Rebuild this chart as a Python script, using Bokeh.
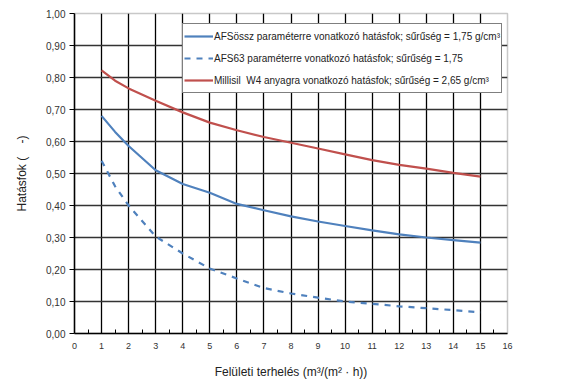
from bokeh.plotting import figure
from bokeh.models import Range1d, FixedTicker, Legend, LegendItem
from bokeh.embed import file_html
from bokeh.resources import INLINE

# Data
x_vals = [1, 1.5, 2, 3, 4, 5, 6, 7, 8, 9, 10, 11, 12, 13, 14, 15]
afs_ossz = [0.68, 0.63, 0.586, 0.51, 0.467, 0.44, 0.405, 0.385, 0.366, 0.35, 0.336, 0.322, 0.31, 0.30, 0.292, 0.284]
afs63 = [0.54, 0.46, 0.40, 0.303, 0.25, 0.203, 0.172, 0.142, 0.125, 0.112, 0.10, 0.093, 0.085, 0.079, 0.073, 0.066]
millisil = [0.822, 0.79, 0.766, 0.727, 0.691, 0.659, 0.635, 0.614, 0.596, 0.578, 0.56, 0.542, 0.527, 0.515, 0.502, 0.49]

labels = [
    "AFSössz paraméterre vonatkozó hatásfok; sűrűség = 1,75 g/cm³",
    "AFS63 paraméterre vonatkozó hatásfok; sűrűség = 1,75",
    "Millisil\u00a0 W4 anyagra vonatkozó hatásfok; sűrűség = 2,65 g/cm³",
]
x_ticks = list(range(0, 17))
y_ticks = [0.0, 0.1, 0.2, 0.3, 0.4, 0.5, 0.6, 0.7, 0.8, 0.9, 1.0]
y_tick_labels = ["0,00", "0,10", "0,20", "0,30", "0,40", "0,50", "0,60", "0,70", "0,80", "0,90", "1,00"]

FONT = "Liberation Sans"

p = figure(width=557, height=382, output_backend="svg", toolbar_location=None,
           x_range=Range1d(0, 16), y_range=Range1d(0, 1),
           min_border_left=74, min_border_right=50, min_border_top=13, min_border_bottom=49)

p.outline_line_color = "#c8c8c8"
p.outline_line_width = 1.5

# axes
p.xaxis.ticker = FixedTicker(ticks=x_ticks, minor_ticks=[i + 0.5 for i in range(16)])
p.yaxis.ticker = FixedTicker(ticks=y_ticks)
p.yaxis.major_label_overrides = {t: l for t, l in zip(y_ticks, y_tick_labels)}
p.xaxis.major_tick_in = 0
p.xaxis.major_tick_out = 0
p.xaxis.minor_tick_in = 4
p.xaxis.minor_tick_out = 0
p.xaxis.minor_tick_line_color = "black"
p.yaxis.major_tick_in = 0
p.yaxis.major_tick_out = 5
p.yaxis.minor_tick_line_color = None
for ax in (p.xaxis, p.yaxis):
    ax.axis_line_color = "black"
    ax.axis_line_width = 1.5
    ax.major_tick_line_color = "black"
    ax.major_label_text_font = FONT
    ax.major_label_text_color = "#333333"
    ax.axis_label_text_font = FONT
    ax.axis_label_text_font_style = "normal"
    ax.axis_label_text_font_size = "12px"
    ax.axis_label_text_color = "#222222"
p.xaxis.major_label_text_font_size = "9px"
p.yaxis.major_label_text_font_size = "10px"
p.xaxis.major_label_standoff = 9
p.xaxis.axis_label_standoff = 13
p.yaxis.major_label_standoff = 4
p.yaxis.axis_label_standoff = 14
p.xaxis.axis_label = "Felületi terhelés (m³/(m² · h))"
p.yaxis.axis_label = "Hatásfok (\u00a0\u00a0\u00a0\u00a0-)"

# grid
p.xgrid.ticker = FixedTicker(ticks=x_ticks[1:16])
p.xgrid.grid_line_color = "black"
p.xgrid.grid_line_width = 1.3
p.ygrid.ticker = FixedTicker(ticks=y_ticks[1:10])
p.ygrid.grid_line_color = "#333333"
p.ygrid.grid_line_width = 1.3
p.ygrid.grid_line_alpha = 1.0

r1 = p.line(x_vals, afs_ossz, line_color="#4F81BD", line_width=2.2)
r2 = p.line(x_vals, afs63, line_color="#4F81BD", line_width=2.2, line_dash="6 6")
r3 = p.line(x_vals, millisil, line_color="#C0504D", line_width=2.2)

legend = Legend(items=[LegendItem(label=labels[0], renderers=[r1]),
                       LegendItem(label=labels[1], renderers=[r2]),
                       LegendItem(label=labels[2], renderers=[r3])],
                location=(108, 240), orientation="vertical")
legend.label_text_font = FONT
legend.label_text_font_size = "10px"
legend.label_text_color = "#222222"
legend.glyph_width = 29
legend.glyph_height = 22
legend.label_height = 22
legend.spacing = 0
legend.padding = 1
legend.margin = 0
legend.label_standoff = 1
legend.border_line_color = "black"
legend.border_line_width = 1.2
legend.background_fill_alpha = 1
p.add_layout(legend, "center")

open("out.html", "w").write(file_html(p, INLINE))
